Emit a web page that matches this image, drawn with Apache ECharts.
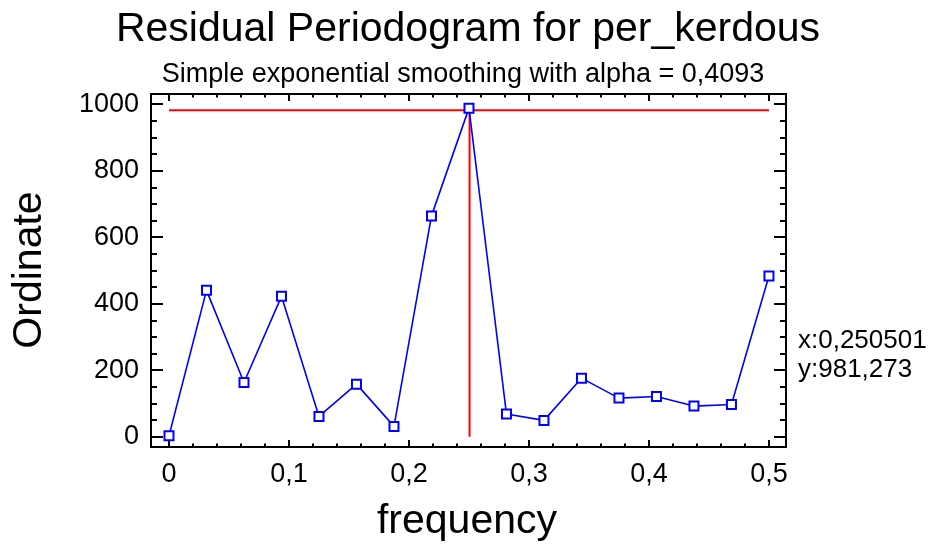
<!DOCTYPE html>
<html>
<head>
<meta charset="utf-8">
<script src="https://cdn.jsdelivr.net/npm/echarts@6/dist/echarts.min.js"></script>
<style>
html,body{margin:0;padding:0;background:#fff;}
#chart{width:940px;height:548px;}
</style>
</head>
<body>
<div id="chart"></div>
<script>
var titleText = "Residual Periodogram for per_kerdous";
var subtitleText = "Simple exponential smoothing with alpha = 0,4093";
var xName = "frequency";
var yName = "Ordinate";
var frequency = [0, 0.03125, 0.0625, 0.09375, 0.125, 0.15625, 0.1875, 0.21875, 0.25, 0.28125, 0.3125, 0.34375, 0.375, 0.40625, 0.4375, 0.46875, 0.5];
var ordinate = [3, 440, 163, 422, 61, 158, 31, 664, 988, 68, 49, 176, 116, 121, 92, 97, 483];
var cursorX = 0.250501;
var cursorY = 981.273;
var cursorLabel = ["x:0,250501", "y:981,273"];
var xTicks = [0, 0.1, 0.2, 0.3, 0.4, 0.5];
var yTicks = [0, 200, 400, 600, 800, 1000];
var xMinorCount = 5;
var yMinorCount = 4;

var FONT = "'Liberation Sans', Arial, sans-serif";
function fmt(v){ return String(Number(Number(v).toFixed(3))).replace('.', ','); }
function minors(ticks, n){
  var out = [];
  for (var i = 0; i < ticks.length - 1; i++) {
    var step = (ticks[i+1] - ticks[i]) / n;
    for (var j = 1; j < n; j++) out.push(Number((ticks[i] + j*step).toFixed(6)));
  }
  return out;
}
var xMinor = minors(xTicks, xMinorCount);
var yMinor = minors(yTicks, yMinorCount);

// frame extent (data units beyond the tick range, as in the reference plot frame)
var xMin = -0.015, xMax = 0.5142;
var yMin = -31, yMax = 1030.5;

var chart = echarts.init(document.getElementById('chart'), null, {renderer:'canvas'});
var pts = frequency.map(function(f,i){ return [f, ordinate[i]]; });

function xAx(pos, values, len, labels){
  return {type:'value', position:pos, min:xMin, max:xMax,
    axisLine:{show:false, onZero:false}, splitLine:{show:false},
    axisTick:{show:true, inside:true, length:len, customValues:values, lineStyle:{color:'#000', width:2}},
    axisLabel:labels ? {show:true, customValues:xTicks, margin:14, fontSize:27, fontFamily:FONT, color:'#000', formatter:fmt} : {show:false}};
}
function yAx(pos, values, len, labels){
  return {type:'value', position:pos, min:yMin, max:yMax,
    axisLine:{show:false, onZero:false}, splitLine:{show:false},
    axisTick:{show:true, inside:true, length:len, customValues:values, lineStyle:{color:'#000', width:2}},
    axisLabel:labels ? {show:true, customValues:yTicks, margin:12, fontSize:27, fontFamily:FONT, color:'#000', formatter:fmt} : {show:false}};
}

var option = {
  backgroundColor:'#fff',
  animation:false,
  grid:{left:151, right:154, top:94, bottom:101, containLabel:false, show:true, borderColor:'#000', borderWidth:2, backgroundColor:'transparent', z:5},
  xAxis:[
    xAx('bottom', xTicks, 7, true),
    xAx('bottom', xMinor, 3.5, false),
    xAx('top', xTicks, 7, false),
    xAx('top', xMinor, 3.5, false)
  ],
  yAxis:[
    yAx('left', yTicks, 12, true),
    yAx('left', yMinor, 6, false),
    yAx('right', yTicks, 12, false),
    yAx('right', yMinor, 6, false)
  ],
  series:[
    {type:'line', xAxisIndex:2, yAxisIndex:2, data:[[xTicks[0], cursorY],[xTicks[xTicks.length-1], cursorY]], symbol:'none',
     lineStyle:{color:'#ff0000', width:2}, silent:true, z:1},
    {type:'line', xAxisIndex:3, yAxisIndex:3, data:[[cursorX, yTicks[0]],[cursorX, cursorY]], symbol:'none',
     lineStyle:{color:'#ff0000', width:2}, silent:true, z:1},
    {type:'line', xAxisIndex:1, yAxisIndex:1, data:[[cursorX, cursorY]], symbol:'none', showSymbol:false,
     lineStyle:{opacity:0}, silent:true, z:0},
    {type:'line', xAxisIndex:0, yAxisIndex:0, data:pts, symbol:'emptyRect', symbolSize:9,
     lineStyle:{color:'#0000ff', width:1.6},
     itemStyle:{color:'#0000ff', borderColor:'#0000ff', borderWidth:1.6}, z:3}
  ],
  graphic:[
    {type:'text', x:468, y:30, style:{text:titleText, font:'41px '+FONT, fill:'#000', textAlign:'center', textVerticalAlign:'middle'}},
    {type:'text', x:463, y:75, style:{text:subtitleText, font:'27px '+FONT, fill:'#000', textAlign:'center', textVerticalAlign:'middle'}},
    {type:'text', x:467, y:522, style:{text:xName, font:'41px '+FONT, fill:'#000', textAlign:'center', textVerticalAlign:'middle'}},
    {type:'text', x:30, y:270, rotation:Math.PI/2, style:{text:yName, font:'41px '+FONT, fill:'#000', textAlign:'center', textVerticalAlign:'middle'}},
    {type:'text', x:798, y:341, style:{text:cursorLabel[0], font:'26px '+FONT, fill:'#000', textAlign:'left', textVerticalAlign:'middle'}},
    {type:'text', x:798, y:370, style:{text:cursorLabel[1], font:'26px '+FONT, fill:'#000', textAlign:'left', textVerticalAlign:'middle'}}
  ]
};
chart.setOption(option);
</script>
</body>
</html>
